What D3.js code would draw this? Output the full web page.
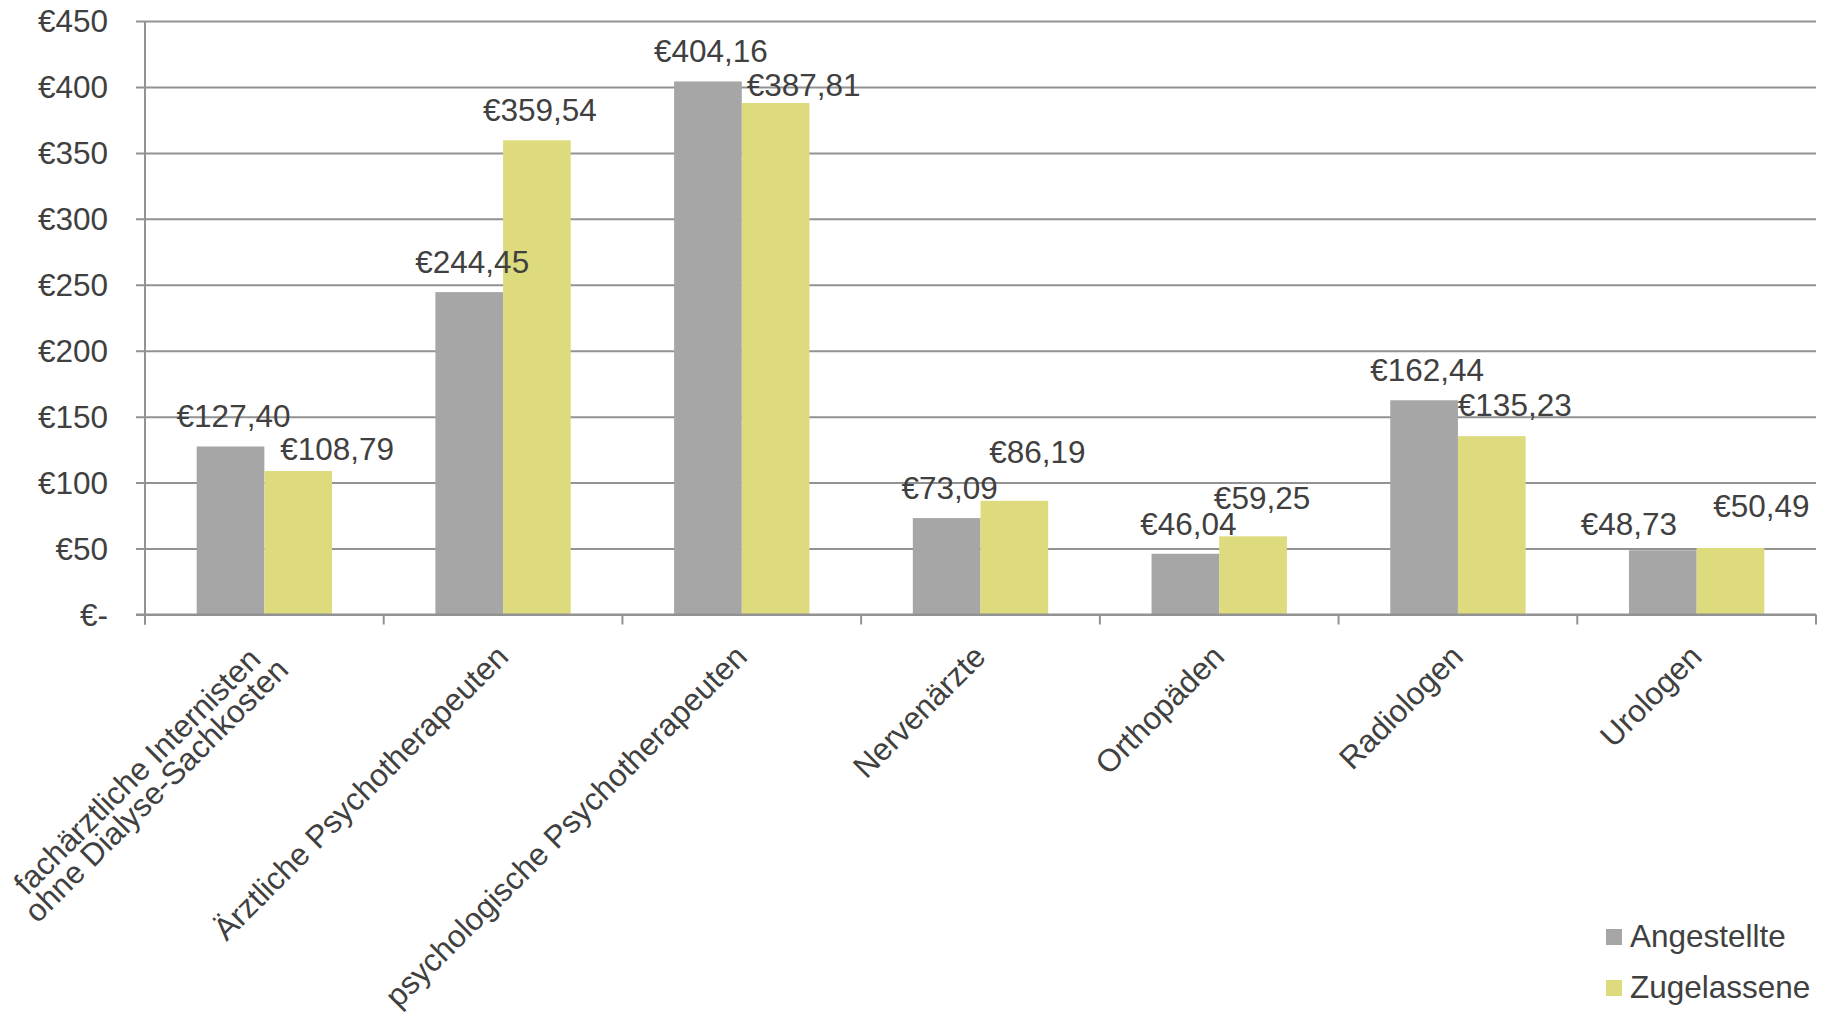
<!DOCTYPE html>
<html>
<head>
<meta charset="utf-8">
<script src="https://cdn.jsdelivr.net/npm/d3@7"></script>
<style>
  body { margin: 0; background: #fff; }
  text { font-family: "Liberation Sans", Arial, sans-serif; fill: #404040; }
</style>
</head>
<body>
<div id="chart"></div>
<script>
// data
var categories = [
    "fachärztliche Internisten\nohne Dialyse-Sachkosten",
    "Ärztliche Psychotherapeuten",
    "psychologische Psychotherapeuten",
    "Nervenärzte",
    "Orthopäden",
    "Radiologen",
    "Urologen"
];
var seriesNames = ["Angestellte", "Zugelassene"];
var angestellte = [127.40, 244.45, 404.16, 73.09, 46.04, 162.44, 48.73];
var zugelassene = [108.79, 359.54, 387.81, 86.19, 59.25, 135.23, 50.49];
var yTicks = [0, 50, 100, 150, 200, 250, 300, 350, 400, 450];

// hand nudges of the value labels (like in the original chart)
var nudgeA = [[0, 0], [0, 0], [0, 0], [0, 0], [0, 0], [0, 0], [-37, 4]];
var nudgeZ = [[36, 8], [0, 0], [25, 12], [20, -19], [6, -8], [20, -1], [28, -12]];

var colors = ["#a6a6a6", "#dddb7e"];

var svgWidth = 1831;
var svgHeight = 1012;
var fontSize = "31.5px";

var plot = { left: 145, right: 1816, top: 21, bottom: 614.5 };

var svg = d3.select("#chart")
    .append("svg")
    .attr("width", svgWidth)
    .attr("height", svgHeight);

var locale = d3.formatLocale({ decimal: ",", thousands: ".", grouping: [3], currency: ["€", ""] });
var fmt = locale.format(".2f");

// scales
var x0 = d3.scaleBand()
    .domain(categories)
    .range([plot.left, plot.right]);

var gap = x0.step() * 0.433;
var x1 = d3.scaleBand()
    .domain(seriesNames)
    .range([gap / 2, x0.step() - gap / 2]);

var yScale = d3.scaleLinear()
    .domain([0, 450])
    .range([plot.bottom, plot.top]);

// gridlines
var yAxis = d3.axisLeft(yScale)
    .tickValues(yTicks)
    .tickSize(-(plot.right - plot.left))
    .tickFormat("");

var yG = svg.append("g")
    .attr("transform", `translate(${plot.left}, 0)`)
    .call(yAxis);
yG.select(".domain").remove();
yG.selectAll(".tick line")
    .attr("x1", -9)
    .attr("stroke", "#929292")
    .attr("stroke-width", 2);
yG.selectAll(".tick text").remove();

// y tick labels
svg.selectAll(".ylab")
    .data(yTicks)
    .enter()
    .append("text")
    .attr("x", 108)
    .attr("y", d => yScale(d))
    .attr("dy", "0.36em")
    .attr("text-anchor", "end")
    .style("font-size", fontSize)
    .text(d => "€" + (d === 0 ? "-" : d));

// y axis line
svg.append("line")
    .attr("x1", plot.left).attr("x2", plot.left)
    .attr("y1", plot.top).attr("y2", plot.bottom + 10)
    .attr("stroke", "#929292")
    .attr("stroke-width", 2);

// bars
var rows = categories.map(function (c, i) {
    return { cat: c, i: i, values: [angestellte[i], zugelassene[i]] };
});

var groups = svg.selectAll(".cat")
    .data(rows)
    .enter()
    .append("g")
    .attr("transform", d => `translate(${x0(d.cat)}, 0)`);

groups.selectAll("rect")
    .data(d => d.values.map((v, k) => ({ name: seriesNames[k], value: v, k: k })))
    .enter()
    .append("rect")
    .attr("x", d => x1(d.name))
    .attr("y", d => yScale(d.value))
    .attr("width", x1.bandwidth())
    .attr("height", d => yScale(0) - yScale(d.value))
    .attr("fill", d => colors[d.k]);

// x axis
var xAxis = d3.axisBottom(x0).tickSize(0).tickFormat("");
var xG = svg.append("g")
    .attr("transform", `translate(0, ${plot.bottom})`)
    .call(xAxis);
xG.select(".domain")
    .attr("d", `M${plot.left - 9},0H${plot.right}`)
    .attr("stroke", "#929292")
    .attr("stroke-width", 2);

var bounds = categories.map(c => x0(c)).concat([plot.right]);
xG.selectAll(".bound")
    .data(bounds)
    .enter()
    .append("line")
    .attr("x1", d => d).attr("x2", d => d)
    .attr("y1", 0).attr("y2", 10)
    .attr("stroke", "#929292")
    .attr("stroke-width", 2);

// value labels
function valueLabel(v, cx, nudge) {
    svg.append("text")
        .attr("x", cx + 3 + nudge[0])
        .attr("y", yScale(v) - 19 + nudge[1])
        .attr("text-anchor", "middle")
        .style("font-size", fontSize)
        .text("€" + fmt(v));
}

rows.forEach(function (r) {
    var base = x0(r.cat);
    valueLabel(r.values[0], base + x1(seriesNames[0]) + x1.bandwidth() / 2, nudgeA[r.i]);
    valueLabel(r.values[1], base + x1(seriesNames[1]) + x1.bandwidth() / 2, nudgeZ[r.i]);
});

// category labels, rotated -45
categories.forEach(function (c) {
    var cx = x0(c) + x0.bandwidth() / 2;
    var lines = c.split("\n");
    var multi = lines.length > 1;
    var g = svg.append("g")
        .attr("transform", `translate(${cx + 7}, ${plot.bottom + 44}) rotate(-45)`);
    var lh = 27;
    var texts = lines.map(function (l, j) {
        return g.append("text")
            .attr("x", 0)
            .attr("y", (j - (lines.length - 1) / 2) * lh + (multi ? 9 : 0))
            .attr("text-anchor", "end")
            .style("font-size", fontSize)
            .text(l);
    });
    var widths = texts.map(t => t.node().getComputedTextLength());
    var maxW = d3.max(widths);
    texts.forEach(function (t, j) {
        t.attr("x", -(maxW - widths[j]) / 2 + (multi ? 4 : 0));
    });
});

// legend
var legend = svg.append("g")
    .attr("transform", "translate(1606, 929)");
seriesNames.forEach(function (n, k) {
    legend.append("rect")
        .attr("x", 0)
        .attr("y", k * 51)
        .attr("width", 16)
        .attr("height", 16)
        .attr("fill", colors[k]);
    legend.append("text")
        .attr("x", 24)
        .attr("y", k * 51 + 18)
        .style("font-size", fontSize)
        .text(n);
});
</script>
</body>
</html>
